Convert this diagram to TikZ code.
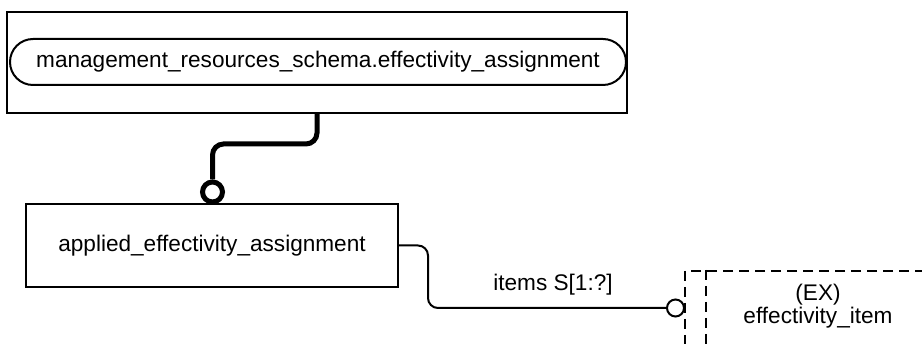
\documentclass[tikz,border=0pt]{standalone}
\usepackage{fontspec}
\setmainfont{Liberation Sans}
\usepackage{tikz}
\usetikzlibrary{shapes.misc}

\tikzset{
	thinline/.style = {line width=2pt},
	thickline/.style = {line width=5pt},
	entbox/.style = {draw, thinline, rectangle, inner sep=0pt},
	knob/.style = {draw, circle, fill=white, inner sep=0pt, minimum size=16pt},
	dashbox/.style = {draw, thinline, dash pattern=on 10pt off 6pt}
}

\begin{document}
\begin{tikzpicture}[x=1pt, y=-1pt, font=\fontsize{22.6pt}{27pt}\selectfont]
					\useasboundingbox (0,0) rectangle (922,344);
					\clip (0,0) rectangle (922,344);
					\node[entbox, minimum width=620pt, minimum height=101pt] (schema) at (317,62.5) {};
					\node[draw, thinline, rounded rectangle, inner sep=0pt, minimum width=616pt, minimum height=46pt] (schemaname) at (318,62) {management\_resources\_schema.effectivity\_assignment};
					\node[entbox, minimum width=372pt, minimum height=83pt] (applied) at (212,245.5) {applied\_effectivity\_assignment};
					\node[knob, thickline, minimum size=20pt] (upknob) at (212.5,192) {};
					\draw[thickline, rounded corners=11pt] (schema.south) -- ++(0,30) -| (upknob.north);
					\node[knob, thinline, minimum size=17pt] (itemknob) at (675.5,308) {};
					\draw[thinline, rounded corners=10pt] (applied.east) -- ++(29,0) |- (itemknob.west);
					\node (itemslabel) at (553,285) {items S[1:?]};
					\node[dashbox, anchor=north west, minimum width=300pt, minimum height=120pt] (item) at (684,270) {};
					\coordinate (itemtop) at (706,270);
					\draw[dashbox] (itemtop) -- (itemtop |- item.south);
					\node[align=center, inner sep=0pt] (itemname) at (818,306) {(EX)\\[-4pt]effectivity\_item};
				\end{tikzpicture}
\end{document}
